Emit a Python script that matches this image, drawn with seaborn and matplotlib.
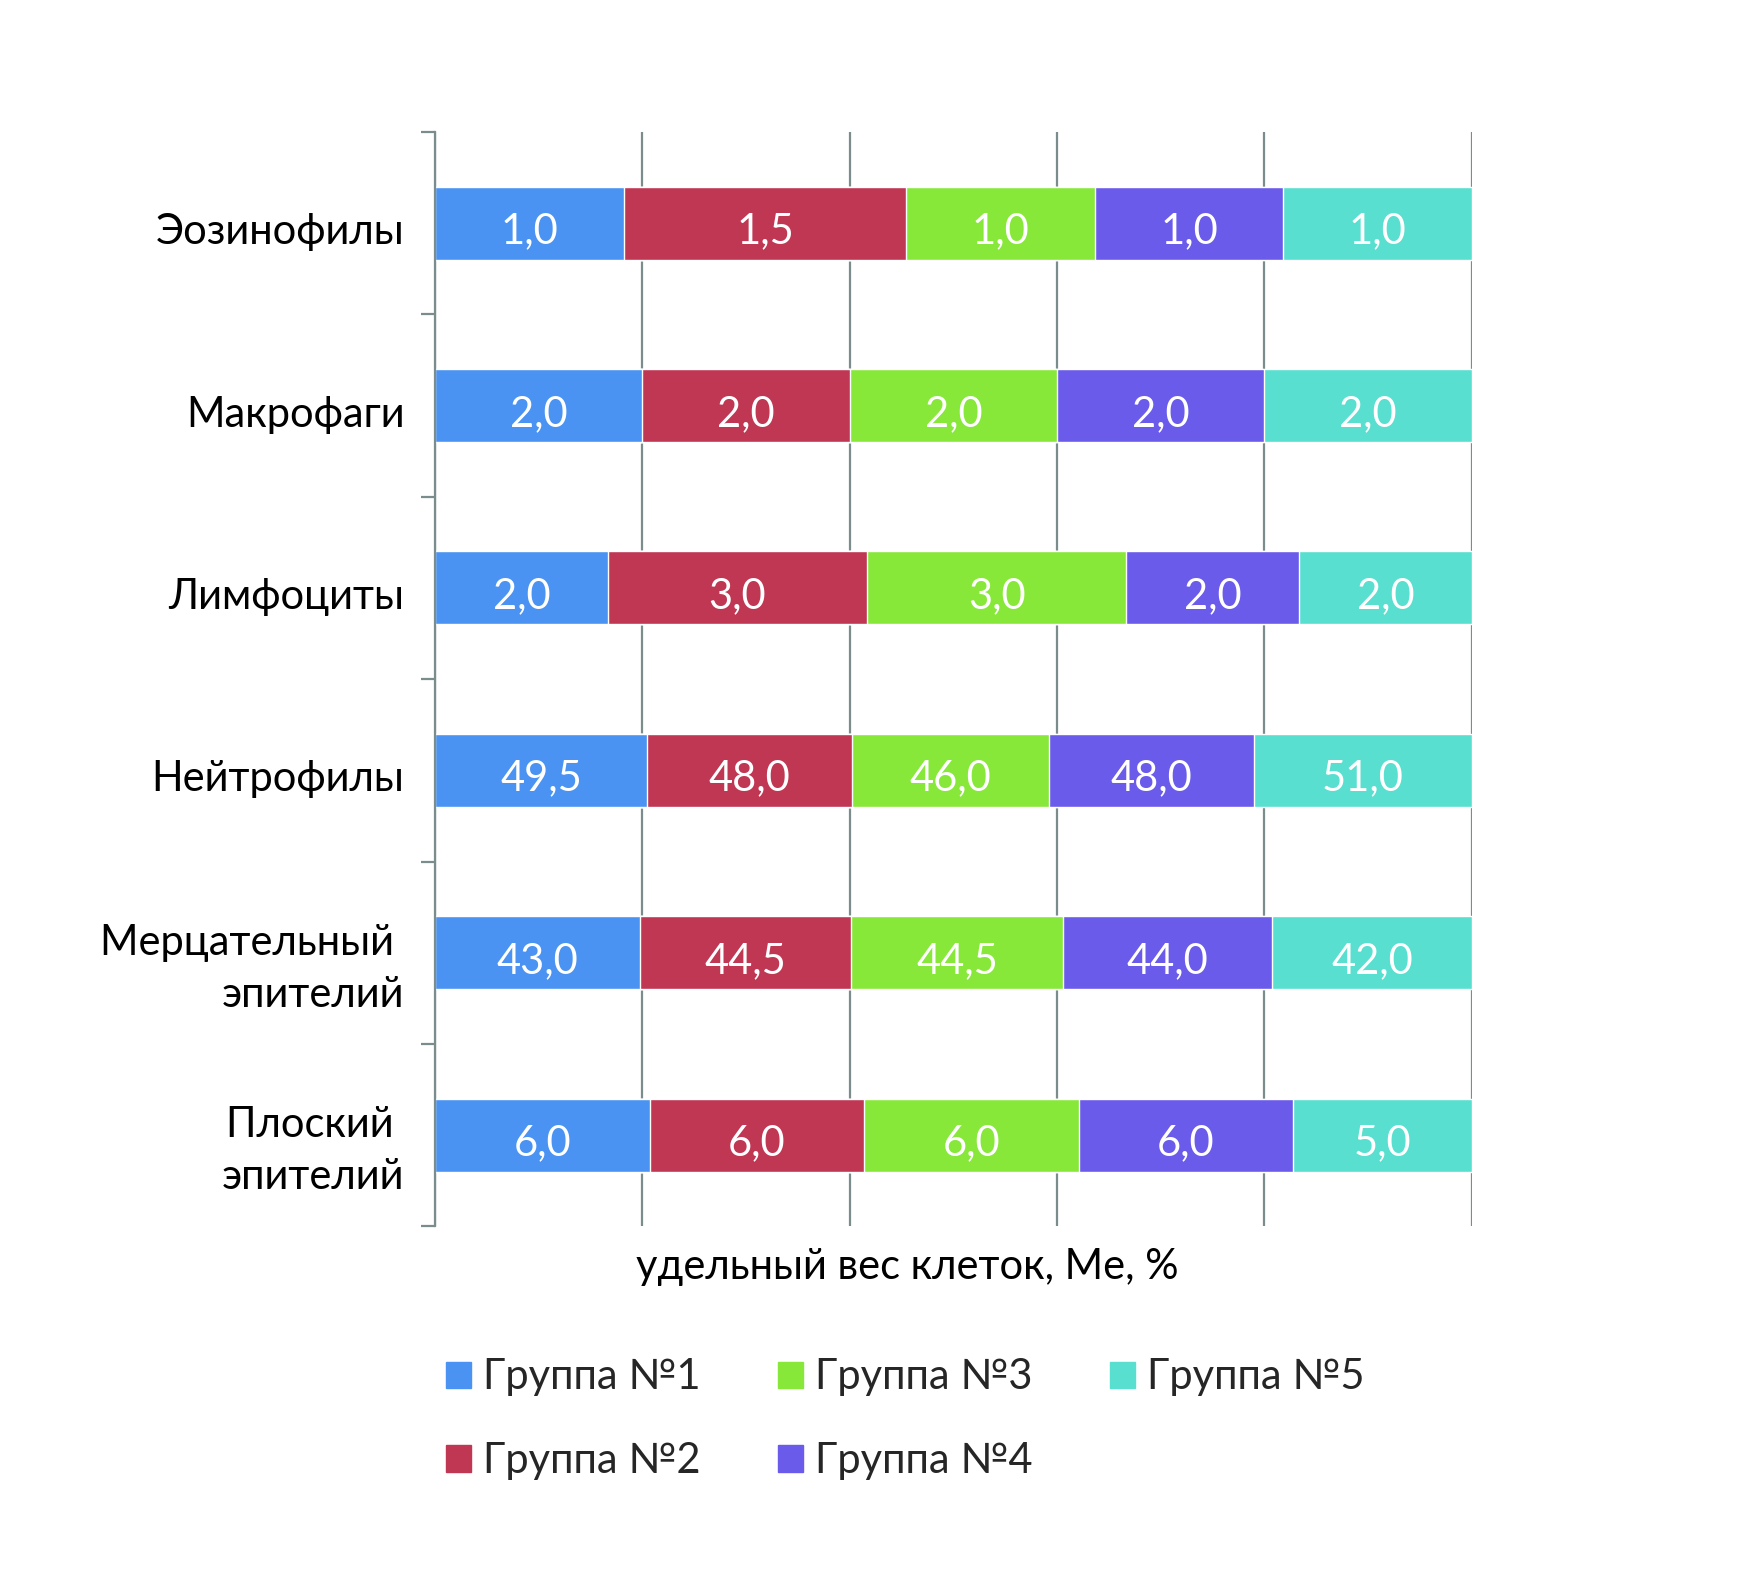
import numpy as np
import pandas as pd
import matplotlib
matplotlib.use('Agg')
import matplotlib.pyplot as plt
import matplotlib.transforms as mtransforms
import seaborn as sns
from matplotlib.patches import Patch

# Data (median share of cells, %)
categories = ['Эозинофилы', 'Макрофаги', 'Лимфоциты', 'Нейтрофилы',
              'Мерцательный \nэпителий', 'Плоский \nэпителий']
groups = ['Группа №1', 'Группа №2', 'Группа №3', 'Группа №4', 'Группа №5']
group1 = [1.0, 2.0, 2.0, 49.5, 43.0, 6.0]
group2 = [1.5, 2.0, 3.0, 48.0, 44.5, 6.0]
group3 = [1.0, 2.0, 3.0, 46.0, 44.5, 6.0]
group4 = [1.0, 2.0, 2.0, 48.0, 44.0, 6.0]
group5 = [1.0, 2.0, 2.0, 51.0, 42.0, 5.0]
colors = ['#4A93F2', '#BF3753', '#88E83A', '#6A5BEB', '#58DFCF']
grid_color = '#7B8C8C'

sns.set_theme(style='white')
plt.rcParams['font.family'] = ['Lato', 'DejaVu Sans']
fs = 30

values = pd.DataFrame([group1, group2, group3, group4, group5],
                      index=groups, columns=categories).T
shares = values.div(values.sum(axis=1), axis=0) * 100
cum = shares.cumsum(axis=1)

fig = plt.figure(figsize=(17.51, 15.89), dpi=100)
ax = fig.add_axes([0.2485, 0.2282, 0.592, 0.6888])

# 100% stacked bars: draw cumulative totals from the last group to the first
for i in range(len(groups) - 1, -1, -1):
    sns.barplot(x=cum.iloc[:, i].values, y=categories, orient='h',
                color=colors[i], saturation=1, width=0.4, errorbar=None,
                ax=ax, zorder=2)

centers = cum - shares / 2
for i in range(len(groups)):
    for j in range(len(categories)):
        ax.annotate(f'{values.iloc[j, i]:.1f}'.replace('.', ','),
                    (centers.iloc[j, i], j), xytext=(0, -6),
                    textcoords='offset points', ha='center', va='center',
                    color='white', fontsize=fs, zorder=3)

ax.set_xlim(0, 100)
ax.set_ylim(len(categories) - 0.5, -0.5)
ax.set_xticks(range(0, 101, 20))
ax.xaxis.grid(True, color=grid_color, linewidth=1.6)
ax.set_axisbelow(True)
ax.tick_params(axis='x', length=0, labelbottom=False)
ax.set_yticks(np.arange(-0.5, len(categories), 1), minor=True)
ax.tick_params(axis='y', which='minor', left=True, length=10, width=1.6,
               color=grid_color, direction='out')
ax.tick_params(axis='y', which='major', length=0, pad=22,
               labelsize=fs, labelcolor='black')
shift = mtransforms.ScaledTranslation(0, -4 / 72, fig.dpi_scale_trans)
for lbl in ax.get_yticklabels():
    lbl.set_linespacing(1.45)
    lbl.set_transform(lbl.get_transform() + shift)
for s in ['top', 'right', 'bottom']:
    ax.spines[s].set_visible(False)
ax.spines['left'].set_color(grid_color)
ax.spines['left'].set_linewidth(1.6)
ax.set_xlabel('')
ax.set_ylabel('')

fig.text(0.518, 0.2025, 'удельный вес клеток, Ме, %', ha='center', va='center',
         fontsize=fs, color='black')

handles = [Patch(color=c) for c in colors]
fig.legend(handles, groups, ncol=3, loc='upper left',
           bbox_to_anchor=(0.2545, 0.1451), frameon=False, fontsize=fs,
           handlelength=0.6, handleheight=0.6, handletextpad=0.3,
           columnspacing=1.85, labelspacing=1.1, borderpad=0, borderaxespad=0)

fig.savefig('out.png', dpi=100)
